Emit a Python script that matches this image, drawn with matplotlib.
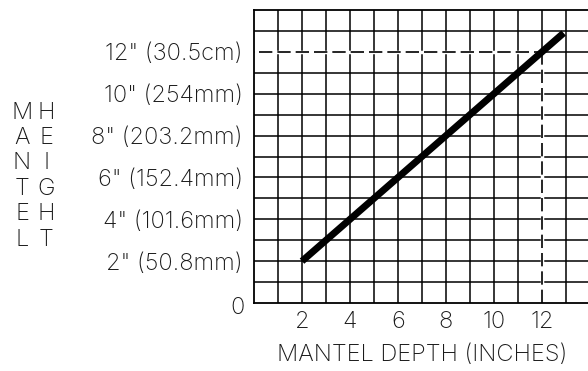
import matplotlib
matplotlib.use("Agg")
import matplotlib.pyplot as plt
import numpy as np

plt.rcParams['font.family'] = ['Inter', 'DejaVu Sans']

depth = [2, 12.9]
height = [2, 12.9]
x_ticks = [2, 4, 6, 8, 10, 12]
x_labels = ["2", "4", "6", "8", "10", "12"]
y_ticks = [2, 4, 6, 8, 10, 12]
y_labels = ['2" (50.8mm)', '4" (101.6mm)', '6" (152.4mm)', '8" (203.2mm)',
            '10" (254mm)', '12" (30.5cm)']
ref_x = 12
ref_y = 12

fig = plt.figure(figsize=(5.88, 3.71), dpi=100)
ax = fig.add_axes([254/588, 1-303/371, 336/588, 293/371])
ax.set_xlim(0, 14)
ax.set_ylim(0, 14)

fs = 17
fw = 'light'
tc = '#1a1a1a'
# grid
for gx in range(1, 14):
    ax.axvline(gx, color='black', lw=1.1, zorder=1)
for gy in range(1, 14):
    ax.axhline(gy, color='black', lw=1.1, zorder=1)

# reference dashed lines (cover grid segments)
ax.plot([0, ref_x], [ref_y, ref_y], color='white', lw=2.5, zorder=2, solid_capstyle='butt')
ax.plot([ref_x, ref_x], [0, ref_y], color='white', lw=2.5, zorder=2, solid_capstyle='butt')
ax.plot([0.2, ref_x], [ref_y, ref_y], color='black', lw=1.2, dashes=(8, 3), zorder=3)
ax.plot([ref_x, ref_x], [0, ref_y], color='black', lw=1.2, dashes=(8, 3), zorder=3)

ax.plot(depth, height, color='black', lw=5, solid_capstyle='butt', zorder=4)

for s in ['left', 'top', 'bottom']:
    ax.spines[s].set_linewidth(1.3)
ax.spines['right'].set_visible(False)

ax.set_xticks(x_ticks)
ax.set_xticklabels(x_labels, fontsize=fs, fontweight=fw, color=tc)
ax.set_yticks(y_ticks)
ax.set_yticklabels(y_labels, fontsize=fs, fontweight=fw, color=tc)
ax.tick_params(axis='both', length=0)
ax.tick_params(axis='x', pad=6)
ax.tick_params(axis='y', pad=8)

ax.text(-0.7, -0.25, "0", ha='center', va='center', fontsize=fs, fontweight=fw,
        color=tc, clip_on=False)

fig.text(422/588, 1-355/371, "MANTEL DEPTH (INCHES)", ha='center', va='center',
         fontsize=fs, fontweight=fw, color=tc)
fig.text(22/588, 1-176/371, "M\nA\nN\nT\nE\nL", ha='center', va='center',
         fontsize=fs, fontweight=fw, color=tc, linespacing=1.2)
fig.text(46/588, 1-176/371, "H\nE\nI\nG\nH\nT", ha='center', va='center',
         fontsize=fs, fontweight=fw, color=tc, linespacing=1.2)

fig.savefig("out.png", dpi=100)
